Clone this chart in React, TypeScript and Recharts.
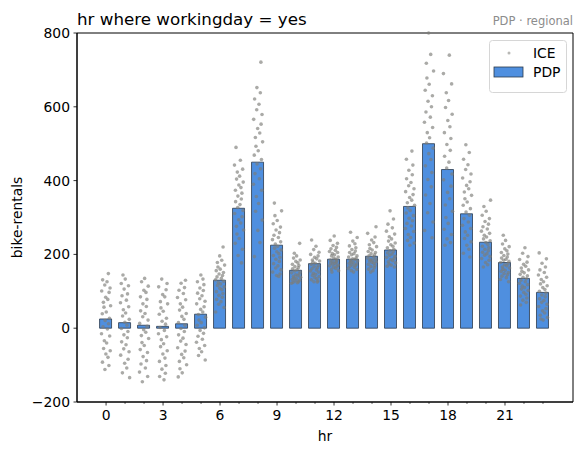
import React from 'react';
import { ComposedChart, Bar, Scatter, XAxis, YAxis, Legend, ReferenceArea } from 'recharts';

// hours of the day
const HOURS = [0, 1, 2, 3, 4, 5, 6, 7, 8, 9, 10, 11, 12, 13, 14, 15, 16, 17, 18, 19, 20, 21, 22, 23];

// partial dependence (bar height) per hour
const PDP = [25, 15, 8, 5, 12, 38, 130, 325, 450, 225, 157, 175, 187, 187, 195, 212, 330, 500, 430, 310, 233, 178, 135, 97];

// ICE values read per hour (one list per hour)
const ICE: number[][] = [
  [148, 131, 126, 117, 109, 101, 97, 84, 78, 70, 61, 57, 44, 39, 27, 21, 12, 4, -2, -15, -21, -34, -40, -55, -61, -70, -79, -92, -101, -112],
  [144, 133, 121, 115, 106, 93, 88, 76, 69, 58, 50, 41, 33, 24, 16, 8, -1, -9, -18, -26, -37, -45, -56, -64, -73, -84, -95, -108, -121, -134],
  [135, 126, 114, 103, 97, 85, 78, 66, 59, 47, 40, 31, 22, 13, 5, -4, -11, -20, -28, -39, -47, -58, -66, -77, -88, -97, -108, -119, -131, -145],
  [133, 121, 112, 104, 91, 85, 72, 66, 55, 46, 38, 27, 19, 11, 2, -6, -15, -23, -31, -42, -50, -61, -70, -81, -90, -101, -111, -122, -131, -140],
  [130, 122, 110, 103, 94, 83, 77, 66, 57, 49, 40, 32, 24, 15, 8, -1, -9, -18, -27, -35, -44, -53, -62, -71, -80, -90, -99, -110, -121, -132],
  [144, 133, 126, 118, 109, 102, 95, 88, 80, 73, 66, 58, 51, 44, 37, 30, 22, 15, 8, 1, -6, -14, -22, -30, -38, -47, -55, -64, -74, -86],
  [220, 196, 184, 178, 171, 166, 160, 156, 151, 147, 143, 139, 135, 131, 127, 124, 120, 116, 112, 108, 104, 99, 94, 89, 84, 78, 72, 65, 56, 44],
  [490, 455, 442, 431, 423, 412, 404, 396, 388, 381, 374, 366, 358, 350, 343, 335, 327, 319, 311, 302, 294, 285, 276, 266, 255, 243, 230, 214, 197, 177],
  [721, 652, 638, 621, 607, 592, 579, 566, 553, 541, 529, 517, 505, 493, 481, 469, 457, 445, 432, 419, 405, 390, 374, 357, 338, 317, 293, 265, 232, 194],
  [339, 318, 305, 292, 283, 274, 266, 259, 252, 246, 240, 234, 228, 222, 217, 212, 207, 202, 197, 192, 187, 181, 175, 169, 163, 158, 152, 147, 143, 140],
  [230, 203, 196, 190, 185, 181, 177, 173, 170, 167, 164, 161, 158, 155, 152, 150, 147, 145, 142, 140, 138, 136, 134, 132, 130, 128, 126, 124, 123, 122],
  [239, 222, 213, 206, 200, 196, 192, 188, 185, 182, 179, 176, 173, 170, 167, 164, 161, 158, 155, 152, 149, 146, 143, 140, 137, 134, 131, 128, 126, 125],
  [250, 238, 230, 224, 219, 215, 211, 208, 205, 202, 199, 196, 193, 190, 187, 185, 183, 181, 179, 177, 175, 173, 171, 169, 167, 165, 162, 159, 156, 152],
  [260, 246, 236, 229, 223, 218, 213, 209, 205, 202, 199, 196, 193, 190, 188, 186, 184, 182, 180, 178, 176, 174, 172, 170, 168, 165, 162, 159, 156, 152],
  [275, 257, 247, 239, 232, 226, 221, 216, 212, 208, 205, 202, 199, 196, 193, 190, 188, 186, 184, 182, 180, 178, 176, 173, 170, 167, 164, 160, 156, 152],
  [318, 296, 282, 272, 263, 255, 248, 242, 236, 231, 226, 222, 218, 214, 210, 207, 204, 201, 198, 195, 192, 189, 186, 183, 180, 177, 174, 171, 168, 166],
  [480, 458, 442, 428, 416, 405, 395, 386, 378, 370, 362, 354, 347, 340, 333, 326, 319, 312, 305, 298, 291, 284, 277, 270, 262, 254, 246, 238, 231, 225],
  [800, 742, 718, 697, 678, 661, 645, 630, 615, 600, 586, 572, 558, 544, 530, 516, 502, 488, 473, 457, 440, 422, 403, 383, 361, 338, 313, 288, 265, 245],
  [740, 690, 662, 638, 617, 598, 580, 563, 546, 530, 514, 498, 482, 466, 450, 434, 418, 402, 385, 368, 351, 334, 317, 300, 284, 268, 254, 242, 232, 225],
  [497, 476, 458, 443, 430, 418, 407, 397, 387, 378, 369, 360, 351, 342, 333, 324, 315, 306, 297, 288, 279, 270, 261, 252, 243, 234, 225, 214, 203, 193],
  [347, 330, 317, 306, 297, 289, 282, 275, 269, 263, 257, 252, 247, 242, 237, 232, 227, 222, 218, 214, 210, 206, 202, 198, 194, 189, 184, 178, 172, 166],
  [252, 238, 228, 221, 215, 210, 205, 201, 197, 193, 190, 187, 184, 181, 178, 175, 172, 169, 166, 163, 160, 157, 154, 151, 148, 145, 141, 137, 132, 126],
  [218, 203, 194, 186, 179, 173, 168, 163, 158, 154, 150, 146, 142, 138, 134, 130, 126, 122, 118, 114, 110, 106, 102, 97, 92, 87, 82, 76, 70, 63],
  [204, 188, 176, 166, 158, 151, 144, 138, 132, 126, 120, 115, 110, 105, 100, 95, 90, 85, 80, 75, 70, 65, 59, 53, 47, 41, 35, 29, 25, 22],
];

// horizontal strip offsets (hours), typed once and reused
const JITTER = [0.12, -0.18, 0.05, -0.07, 0.21, -0.23, 0.16, -0.02, 0.09, -0.14, 0.24, -0.11, 0.01, -0.2, 0.18, -0.05, 0.13, -0.16, 0.07, -0.24, 0.19, -0.09, 0.03, -0.13, 0.22, -0.01, 0.1, -0.19, 0.15, -0.06];

const Y_TICKS = [-200, 0, 200, 400, 600, 800];
const X_DOMAIN = [-1.53, 24.58];

const FONT = 'DejaVu Sans';
const BAR_FILL = '#4f8fdf';
const BAR_STROKE = '#2b3a4c';
const DOT_FILL = '#7d7d78';

const pdpData = HOURS.map((hr, i) => ({ hr, pdp: PDP[i] }));
const iceData = HOURS.flatMap((hr, h) =>
  ICE[h].map((v, i) => ({ hr: hr + JITTER[(i + h * 11) % JITTER.length], ice: v }))
);

const XTick = (props: any) => {
  const { x, y, payload } = props;
  const major = payload.value % 3 === 0;
  return (
    <g>
      <line x1={x} x2={x} y1={y} y2={y + (major ? 3.5 : 2)} stroke="#000" strokeWidth={major ? 0.8 : 0.6} />
      {major && (
        <text x={x} y={y + 18} textAnchor="middle" fontSize={13.9} fontFamily={FONT} fill="#000">
          {payload.value}
        </text>
      )}
    </g>
  );
};

const Dot = (props: any) => <circle cx={props.cx} cy={props.cy} r={1.8} fill={DOT_FILL} fillOpacity={0.65} />;

const LegendBox = () => (
  <svg width={78} height={53} style={{ display: 'block' }}>
    <rect x={0.5} y={0.5} width={77} height={52} rx={3} fill="#fff" fillOpacity={0.8} stroke="#d6d6d6" />
    <circle cx={20} cy={13} r={1.5} fill={DOT_FILL} fillOpacity={0.55} />
    <text x={44} y={18} fontSize={13.9} fontFamily={FONT} fill="#000">ICE</text>
    <rect x={5} y={27} width={29} height={10} fill={BAR_FILL} stroke={BAR_STROKE} strokeWidth={0.8} />
    <text x={44} y={37} fontSize={13.9} fontFamily={FONT} fill="#000">PDP</text>
  </svg>
);

export default function App() {
  return (
    <div style={{ position: 'absolute', left: 0, top: 0, width: 583, height: 455, background: '#fff' }}>
      <ComposedChart width={583} height={455} data={pdpData} margin={{ top: 33, right: 10, bottom: 0, left: 0 }}>
        <XAxis
          dataKey="hr"
          type="number"
          domain={X_DOMAIN}
          allowDataOverflow
          ticks={HOURS}
          interval={0}
          height={53}
          tickSize={0}
          tickMargin={0}
          tickLine={false}
          axisLine={{ stroke: '#000' }}
          tick={<XTick />}
        />
        {/* separate hidden axis for the strip points so the bar band size stays one hour */}
        <XAxis xAxisId="ice" dataKey="hr" type="number" domain={X_DOMAIN} allowDataOverflow hide />
        <YAxis
          type="number"
          domain={[-200, 800]}
          ticks={Y_TICKS}
          width={77}
          tickSize={3.5}
          tickMargin={3.5}
          tickLine={{ stroke: '#000', strokeWidth: 0.8 }}
          axisLine={{ stroke: '#000' }}
          tick={{ fontSize: 13.9, fontFamily: FONT, fill: '#000' }}
          tickFormatter={(v: number) => (v < 0 ? '\u2212' + Math.abs(v) : String(v))}
        />
        <Scatter xAxisId="ice" data={iceData} dataKey="ice" name="ICE" shape={<Dot />} isAnimationActive={false} zIndex={700} />
        <Bar dataKey="pdp" name="PDP" barSize={12} fill={BAR_FILL} stroke={BAR_STROKE} strokeWidth={0.8} isAnimationActive={false} zIndex={300} />
        <ReferenceArea x1={X_DOMAIN[0]} x2={X_DOMAIN[1]} y1={-200} y2={800} fill="none" stroke="#000" strokeWidth={1} />
        <Legend
          layout="horizontal"
          verticalAlign="middle"
          align="center"
          wrapperStyle={{ top: 40, left: 489, width: 78, height: 53 }}
          content={() => <LegendBox />}
        />
      </ComposedChart>
      <svg width={583} height={455} style={{ position: 'absolute', left: 0, top: 0, pointerEvents: 'none' }}>
        <text x={77} y={25} fontSize={16.7} fontFamily={FONT} fill="#000">hr where workingday = yes</text>
        <text x={573} y={25} textAnchor="end" fontSize={11.5} fontFamily={FONT} fill="#8c8c8c">PDP · regional</text>
        <text x={325} y={441} textAnchor="middle" fontSize={13.9} fontFamily={FONT} fill="#000">hr</text>
        <text x={21.5} y={217.5} textAnchor="middle" fontSize={13.9} fontFamily={FONT} fill="#000" transform="rotate(-90 21.5 217.5)">bike-rentals</text>
      </svg>
    </div>
  );
}
